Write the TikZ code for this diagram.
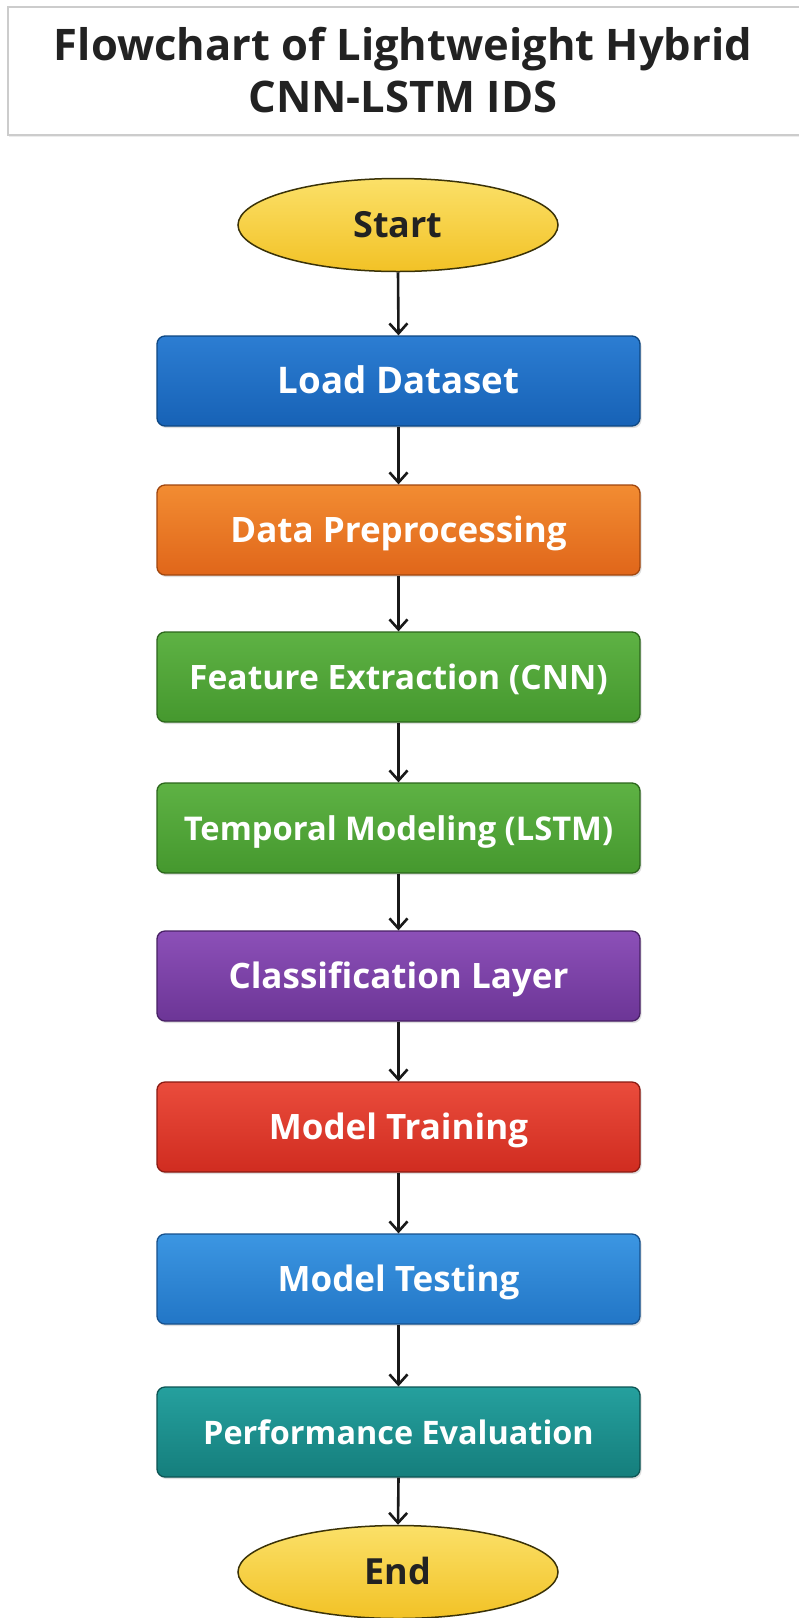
\documentclass[tikz,border=0pt]{standalone}
\usepackage{fontspec}
\setmainfont{Open Sans}
\usetikzlibrary{arrows.meta,shapes.geometric,shadows}
\definecolor{termtop}{HTML}{FBE068}
\definecolor{termbot}{HTML}{F2C226}
\definecolor{termline}{HTML}{3A3208}
\definecolor{textdark}{HTML}{222222}
\definecolor{blueAt}{HTML}{2C7DD2}\definecolor{blueAb}{HTML}{1762B6}\definecolor{blueAl}{HTML}{0E4782}
\definecolor{orgt}{HTML}{F28C32}\definecolor{orgb}{HTML}{E0661A}\definecolor{orgl}{HTML}{A0460E}
\definecolor{grnt}{HTML}{5EB244}\definecolor{grnb}{HTML}{45982E}\definecolor{grnl}{HTML}{2C661C}
\definecolor{purt}{HTML}{8C50B8}\definecolor{purb}{HTML}{6C3596}\definecolor{purl}{HTML}{472064}
\definecolor{redt}{HTML}{EA4C3C}\definecolor{redb}{HTML}{D02C20}\definecolor{redl}{HTML}{8A1A12}
\definecolor{blueBt}{HTML}{3C96E2}\definecolor{blueBb}{HTML}{2276C6}\definecolor{blueBl}{HTML}{16508C}
\definecolor{tealt}{HTML}{25A09E}\definecolor{tealb}{HTML}{157E7C}\definecolor{teall}{HTML}{0C5453}
\tikzset{
  fs/.style={font=\fontsize{#1}{40}\selectfont\bfseries},
  procbox/.style n args={3}{rectangle, rounded corners=8pt, minimum width=483pt,
    minimum height=90pt, inner sep=0pt, line width=1.3pt, text=white,
    fs=35, text height=24pt, text depth=0pt,
    top color=#1, bottom color=#2, draw=#3,
    drop shadow={opacity=0.25, shadow xshift=1.5pt, shadow yshift=-2pt}},
  terminal/.style={ellipse, minimum width=320pt, minimum height=93pt, inner sep=0pt,
    line width=1.5pt, draw=termline, top color=termtop, bottom color=termbot,
    text=textdark, fs=36, text height=25pt, text depth=0pt},
  flow/.style={-{Straight Barb[length=10pt,width=18pt,line width=2.6pt]}, line width=2.6pt, draw=black!90}
}
\begin{document}
\begin{tikzpicture}[x=1pt,y=-1pt]
\useasboundingbox (0,0) rectangle (799,1618);
\fill[white] (0,0) rectangle (799,1618);
\node (titlebox) [rectangle, draw=black!20, line width=1.5pt, fill=white,
  minimum width=806pt, minimum height=128pt, inner sep=0pt,
  drop shadow={opacity=0.15, shadow xshift=1pt, shadow yshift=-2pt}] at (411,71) {};
\node (title) [align=center, text=textdark, font=\fontsize{43.5}{52}\selectfont\bfseries] at (403,70)
  {Flowchart of Lightweight Hybrid\\CNN-LSTM IDS};
\node (start) [terminal] at (398,225) {Start};
\node (load) [procbox={blueAt}{blueAb}{blueAl}, fs=36.7] at (398.5,381) {Load Dataset};
\node (prep) [procbox={orgt}{orgb}{orgl}] at (398.5,530) {Data Preprocessing};
\node (feat) [procbox={grnt}{grnb}{grnl}, fs=33.6] at (398.5,677) {Feature Extraction (CNN)};
\node (temp) [procbox={grnt}{grnb}{grnl}, fs=32.7] at (398.5,828) {Temporal Modeling (LSTM)};
\node (cls) [procbox={purt}{purb}{purl}] at (398.5,976) {Classification Layer};
\node (train) [procbox={redt}{redb}{redl}] at (398.5,1127) {Model Training};
\node (test) [procbox={blueBt}{blueBb}{blueBl}] at (398.5,1279) {Model Testing};
\node (perf) [procbox={tealt}{tealb}{teall}, fs=32.4] at (398.5,1432) {Performance Evaluation};
\node (end) [terminal] at (398,1572) {End};
\foreach \a/\b in {start/load, load/prep, prep/feat, feat/temp, temp/cls, cls/train, train/test, test/perf, perf/end}
  \draw[flow] (\a.south) -- (\b.north);
\end{tikzpicture}
\end{document}
